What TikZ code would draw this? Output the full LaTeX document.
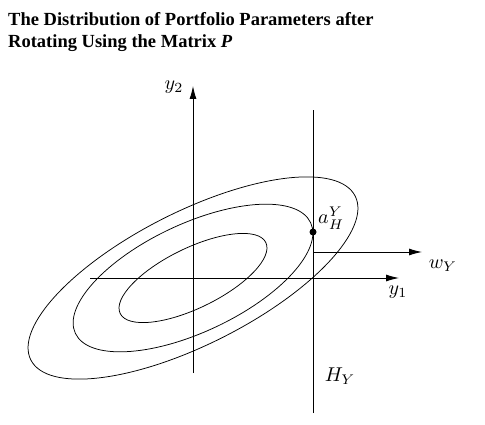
\documentclass[tikz,border=0pt]{standalone}
\usepackage{fontspec}
\usepackage{graphicx}
\newfontfamily\titlefont{Liberation Serif}
\usetikzlibrary{arrows.meta}
\begin{document}
\begin{tikzpicture}[x=1pt,y=1pt,
  axis/.style={line width=0.9pt,-{Latex[length=13pt,width=7pt]}},
  plainline/.style={line width=0.9pt},
  contour/.style={line width=0.75pt},
  lbl/.style={inner sep=0pt},
  ttl/.style={font=\titlefont\fontsize{18.5}{22}\selectfont\bfseries, anchor=base west, inner sep=0pt}]
\useasboundingbox (0,0) rectangle (485,424);
% title
\node[ttl] (t1) at (8,398) {The Distribution of Portfolio Parameters after};
\node[ttl] (t2) at (8,376) {Rotating Using the Matrix \textit{P}};
% ellipses
\coordinate (O) at (193,146);
\draw[contour,rotate around={26.8:(O)}] (O) ellipse [x radius=181.7, y radius=66.4];
\draw[contour,rotate around={25.2:(O)}] (O) ellipse [x radius=130, y radius=54];
\draw[contour,rotate around={26:(O)}] (O) ellipse [x radius=81, y radius=30];
% axes
\coordinate (y2s) at (193,51);
\coordinate (y2e) at (193,338);
\coordinate (y1s) at (90,146);
\coordinate (y1e) at (399,146);
\coordinate (hs) at (313,11);
\coordinate (he) at (313,314);
\coordinate (ws) at (313,172);
\coordinate (we) at (422,172);
\draw[axis] (y2s) -- (y2e);
\draw[axis] (y1s) -- (y1e);
\draw[plainline] (hs) -- (he);
\draw[axis] (ws) -- (we);
\node[circle, fill=black, inner sep=0pt, minimum size=7pt] (dot) at (313,192) {};
% labels
\node[lbl] (ly2) at (174,337) {\scalebox{2}{$y_2$}};
\node[lbl] (ly1) at (398,132) {\scalebox{2}{$y_1$}};
\node[lbl] (lw) at (443,158) {\scalebox{2}{$w_Y$}};
\node[lbl, anchor=west] (la) at (318,206) {\scalebox{2}{$a_H^Y$}};
\node[lbl] (lh) at (340,48) {\scalebox{2}{$H_Y$}};
\end{tikzpicture}
\end{document}
